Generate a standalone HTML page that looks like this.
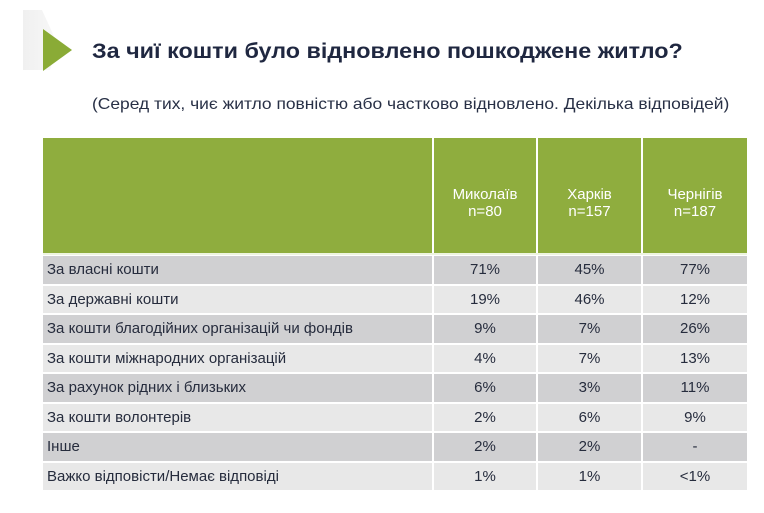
<!DOCTYPE html>
<html><head><meta charset="utf-8"><style>
*{margin:0;padding:0;box-sizing:border-box}
body{width:764px;height:513px;background:#fff;position:relative;overflow:hidden;font-family:"Liberation Sans","DejaVu Sans",sans-serif;color:#283046}
.a{position:absolute;white-space:nowrap}
.g{background:#8fad3e}
.c{position:absolute;display:flex;align-items:center;font-size:15px;color:#262c3d}
.cc{justify-content:center}
.h{position:absolute;display:flex;align-items:center;justify-content:center;text-align:center;color:#fff;font-size:15px;line-height:17px;padding-top:14px}
</style></head><body>
<svg class="a" style="left:0;top:0" width="90" height="90">
<defs><linearGradient id="gr" x1="0" y1="0" x2="1" y2="0"><stop offset="0" stop-color="#f0f0f0"/><stop offset="1" stop-color="#f8f8f8"/></linearGradient></defs>
<polygon points="23,10 42,10 58,45 50,70 23,70" fill="url(#gr)"/>
<polygon points="43,29 72,50 43,71" fill="#8aab36"/>
</svg>
<div class="a" style="left:92px;top:39px;font-size:21.5px;font-weight:bold;color:#1f2740;transform:scaleX(1.086);transform-origin:0 0">За чиї кошти було відновлено пошкоджене житло?</div>
<div class="a" style="left:92px;top:96px;font-size:16px;color:#283046;transform:scaleX(1.088);transform-origin:0 0">(Серед тих, чиє житло повністю або частково відновлено. Декілька відповідей)</div>

<div class="a g" style="left:43px;top:138px;width:389px;height:115px"></div>
<div class="h g" style="left:434px;top:138px;width:102px;height:115px">Миколаїв<br>n=80</div>
<div class="h g" style="left:538px;top:138px;width:103px;height:115px">Харків<br>n=157</div>
<div class="h g" style="left:643px;top:138px;width:104px;height:115px">Чернігів<br>n=187</div>
<div class="a" style="left:43px;top:253px;width:704px;height:2px;background:#eef5e0"></div>

<div id="rows"></div>
<script>
var d=[["За власні кошти","71%","45%","77%"],["За державні кошти","19%","46%","12%"],["За кошти благодійних організацій чи фондів","9%","7%","26%"],["За кошти міжнародних організацій","4%","7%","13%"],["За рахунок рідних і близьких","6%","3%","11%"],["За кошти волонтерів","2%","6%","9%"],["Інше","2%","2%","-"],["Важко відповісти/Немає відповіді","1%","1%","<1%"]];
var cols=[[43,389],[434,102],[538,103],[643,104]];
var h="";
for(var i=0;i<8;i++){var t=256+i*29.5;var bg=i%2==0?"#d0d0d2":"#e8e8e8";
for(var j=0;j<4;j++){h+='<div class="c'+(j?' cc':'')+'" style="left:'+cols[j][0]+'px;top:'+t+'px;width:'+cols[j][1]+'px;height:27.5px;background:'+bg+(j?'':';padding-left:4px')+'">'+d[i][j].replace("<","&lt;")+'</div>';}}
document.getElementById("rows").outerHTML=h;
</script>
</body></html>
